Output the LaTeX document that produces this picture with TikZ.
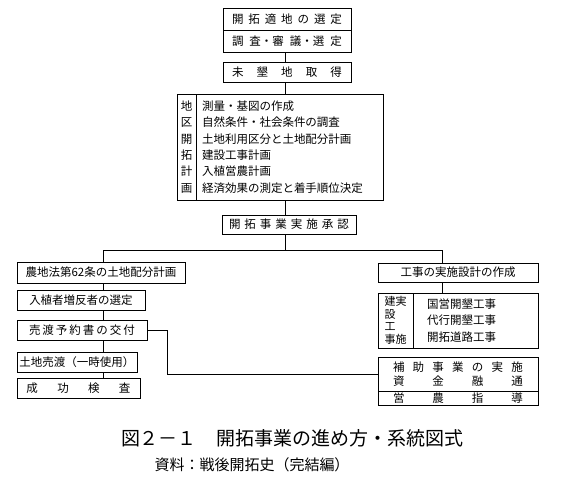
\documentclass[tikz,border=0pt]{standalone}
\usepackage{fontspec}
\setmainfont{Noto Sans CJK JP}
\usetikzlibrary{positioning}
\newcommand{\spreadtext}[2]{\makebox[#1][s]{#2}}

\begin{document}
\begin{tikzpicture}[
    x=1pt, y=-1pt,
    font=\fontsize{11.5}{16.3}\selectfont,
    stepbox/.style={draw, line width=0.9pt, inner sep=0pt, outer sep=0pt, minimum height=20pt, align=center},
    link/.style={line width=0.9pt}
  ]
  \useasboundingbox (0,0) rectangle (566,480);
  \coordinate (spine) at (285,0);
  \coordinate (ldrop) at (103,250);
  \coordinate (rdrop) at (442,250);
  \coordinate (bend) at (167,0);

  % main flow
  \node[stepbox, minimum width=128pt, minimum height=22pt] (site) at (287,19) {\spreadtext{110pt}{開 拓 適 地 の 選 定}};
  \node[stepbox, minimum width=128pt, minimum height=22pt, below=0pt of site] (survey) {\spreadtext{110pt}{調 査・審 議・選 定}};
  \node[stepbox, minimum width=128pt, below=10pt of survey] (acq) {\spreadtext{110pt}{未 墾 地 取 得}};
  \node[stepbox, minimum width=19pt, minimum height=106pt, anchor=north west] (planlbl) at (177,94) {地\\区\\開\\拓\\計\\画};
  \node[stepbox, text width=175pt, inner xsep=6pt, minimum height=106pt, align=left, right=0pt of planlbl] (plan)
    {測量・基図の作成\\自然条件・社会条件の調査\\土地利用区分と土地配分計画\\建設工事計画\\入植営農計画\\経済効果の測定と着手順位決定};
  \node[stepbox, minimum width=134pt, minimum height=19pt, anchor=north] (approve) at (289,215) {\spreadtext{120pt}{開 拓 事 業 実 施 承 認}};

  % left branch
  \node[stepbox, minimum width=168pt, minimum height=21pt, anchor=north west] (landplan) at (17,262) {農地法第62条の土地配分計画};
  \node[stepbox, minimum width=128pt, below=7pt of landplan.south west, anchor=north west] (select) {入植者増反者の選定};
  \node[stepbox, minimum width=130pt, below=10pt of select.south west, anchor=north west] (contract) {\spreadtext{106pt}{売 渡 予 約 書 の 交 付}};
  \node[stepbox, minimum width=120pt, below=12pt of contract.south west, anchor=north west] (sale) {土地売渡（一時使用）};
  \node[stepbox, minimum width=123pt, below=6pt of sale.south west, anchor=north west] (inspect) {\spreadtext{104pt}{成 功 検 査}};

  % right branch
  \node[stepbox, minimum width=160pt, minimum height=19pt, anchor=north west] (design) at (378,263) {工事の実施設計の作成};
  \node[stepbox, minimum width=35pt, minimum height=55pt, align=left, font=\fontsize{11}{12.5}\selectfont, anchor=north west] (workslbl) at (378,293) {建実\\設\\工\\事施};
  \node[stepbox, text width=97pt, inner xsep=14pt, minimum height=55pt, align=left, right=0pt of workslbl] (works) {国営開墾工事\\代行開墾工事\\開拓道路工事};
  \node[stepbox, minimum width=160pt, minimum height=34pt, font=\fontsize{11.5}{14}\selectfont, anchor=north west] (aid) at (378,357)
    {\spreadtext{130pt}{補 助 事 業 の 実 施}\\\spreadtext{130pt}{資 金 融 通}};
  \node[stepbox, minimum width=160pt, minimum height=14pt, below=0pt of aid] (guide) {\spreadtext{130pt}{営 農 指 導}};

  % connectors
  \draw[link] (survey.south -| spine) -- (acq.north -| spine);
  \draw[link] (acq.south -| spine) -- (plan.north -| spine);
  \draw[link] (plan.south -| spine) -- (approve.north -| spine);
  \draw[link] (approve.south -| spine) -- (spine |- ldrop);
  \draw[link] (landplan.north -| ldrop) -- (ldrop) -- (rdrop) -- (design.north -| rdrop);
  \draw[link] (landplan.south -| ldrop) -- (select.north -| ldrop);
  \draw[link] (select.south -| ldrop) -- (contract.north -| ldrop);
  \draw[link] (contract.south -| ldrop) -- (sale.north -| ldrop);
  \draw[link] (sale.south -| ldrop) -- (inspect.north -| ldrop);
  \draw[link] (design.south -| rdrop) -- (works.north -| rdrop);
  \draw[link] (contract.east) -- (contract.east -| bend) |- (aid.west);

  % caption
  \node[font=\fontsize{19}{21}\selectfont] (title) at (292.5,438) {図２－１\hspace{20pt}開拓事業の進め方・系統図式};
  \node[font=\fontsize{15}{17}\selectfont] (source) at (252,465) {資料：戦後開拓史（完結編）};
\end{tikzpicture}
\end{document}
